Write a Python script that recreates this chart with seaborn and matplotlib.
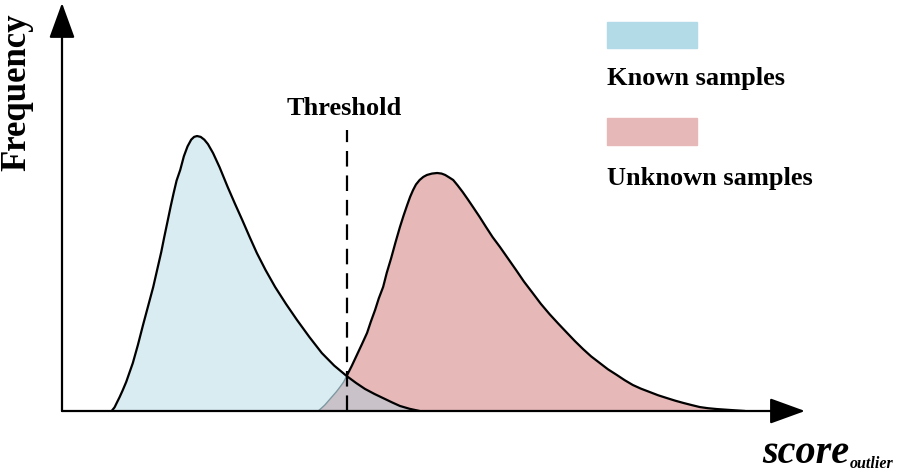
import numpy as np
import pandas as pd
import matplotlib.pyplot as plt
import seaborn as sns
from matplotlib.patches import Rectangle

# ================= DATA =================
known_x = [6.8, 7.2, 7.5, 7.9, 8.3, 8.8, 9.2, 9.7, 10.4, 11.1, 11.8, 12.5, 13.0, 13.6,
           14.0, 14.5, 14.9, 15.3, 15.7, 16.2, 16.7, 17.2, 17.7, 18.1, 18.5, 19.0,
           19.5, 20.0, 20.7, 21.6, 22.7, 23.7, 24.7, 25.7, 26.7, 27.9, 29.2, 30.7,
           32.2, 33.9, 35.6, 37.3, 39.0, 40.3, 41.5, 42.8, 44.0, 45.2, 46.3, 47.6, 49.0]
known_y = [0.0, 1.3, 2.9, 5.0, 7.3, 10.4, 13.4, 17.1, 23.6, 30.7, 37.5, 44.3, 50.0, 56.8,
           62.0, 68.2, 73.2, 77.9, 82.3, 86.1, 91.0, 94.5, 96.9, 97.9, 98.2, 97.9,
           96.9, 95.3, 92.1, 87.0, 80.0, 74.0, 68.2, 62.2, 56.4, 50.3, 44.3, 38.2,
           32.5, 26.4, 20.7, 16.2, 12.5, 10.0, 7.9, 6.1, 4.6, 3.1, 1.8, 0.8, 0.0]

unknown_x = [35.1, 35.5, 36.0, 36.5, 37.1, 37.6, 38.1, 38.6, 39.0, 39.7, 40.4, 41.1,
             41.8, 42.3, 42.9, 43.4, 44.0, 44.5, 45.1, 45.7, 46.3, 46.8, 47.3, 47.7,
             48.1, 48.5, 49.0, 49.5, 50.0, 50.7, 51.4, 52.0, 52.5, 53.0, 53.6, 54.2,
             54.9, 55.6, 56.3, 57.2, 58.1, 59.0, 60.0, 61.1, 62.2, 63.3, 64.5, 65.6,
             66.8, 68.0, 69.2, 70.3, 71.4, 72.5, 73.7, 74.8, 76.0, 77.1, 78.2, 79.3,
             80.5, 81.7, 82.9, 84.0, 85.1, 86.3, 87.4, 88.5, 89.7, 91.9, 93.6]
unknown_y = [0.0, 0.9, 2.1, 3.6, 5.4, 6.9, 8.6, 10.4, 12.5, 16.1, 20.0, 23.9,
             27.9, 31.8, 36.1, 40.2, 44.3, 49.4, 54.6, 60.3, 65.7, 69.8, 73.6, 76.5,
             78.9, 80.9, 82.5, 83.6, 84.3, 84.8, 85.0, 84.8, 84.3, 83.5, 82.5, 80.6,
             78.2, 75.6, 72.9, 69.4, 65.7, 62.1, 58.6, 54.5, 50.4, 46.2, 42.1, 38.3,
             34.6, 31.2, 27.9, 24.9, 22.1, 19.5, 17.1, 14.9, 12.9, 11.0, 9.3, 8.0,
             6.8, 5.6, 4.6, 3.7, 2.9, 2.1, 1.4, 1.0, 0.7, 0.3, 0.0]

threshold = 39.0
threshold_top = 100.4
labels = ["Known samples", "Unknown samples"]

known = pd.DataFrame({"score": known_x, "freq": known_y})
unknown = pd.DataFrame({"score": unknown_x, "freq": unknown_y})

# overlap = rising edge of unknown up to threshold, then falling edge of known
left = unknown[unknown.score <= threshold]
right = known[known.score > threshold]
overlap = pd.concat([left, right])

# ================= STYLE =================
sns.set_theme(style="white")
plt.rcParams["font.family"] = ["Liberation Serif", "DejaVu Serif"]
plt.rcParams["text.color"] = "black"

BLUE_FILL = "#d9ecf2"
RED_FILL = "#e6b8b7"
GRAY_FILL = "#c9c2c8"
BLUE_PATCH = "#b2dbe7"

fig = plt.figure(figsize=(9, 4.74), dpi=100)
ax = fig.add_axes([62 / 900, 63 / 474, 743 / 900, 406 / 474])
ax.set_xlim(0, 101.8)
ax.set_ylim(0, 145)

ax.fill_between(known.score, known.freq, color=BLUE_FILL, lw=0)
ax.fill_between(unknown.score, unknown.freq, color=RED_FILL, lw=0)
ax.fill_between(overlap.score, overlap.freq, color=GRAY_FILL, lw=0)

line_kw = dict(color="black", lw=1.6, sort=False, solid_joinstyle="round")
sns.lineplot(data=known, x="score", y="freq", ax=ax, **line_kw)
sns.lineplot(data=unknown[unknown.score >= threshold], x="score", y="freq", ax=ax,
             **line_kw)
sns.lineplot(data=left, x="score", y="freq", ax=ax, color="#7d97a0", lw=1.0, sort=False)

ax.vlines(threshold, 0, threshold_top, colors="black", lw=1.6,
          linestyles=(0, (7, 4)), zorder=5)
ax.text(threshold - 0.3, 108, "Threshold", ha="center", va="center",
        fontsize=19, fontweight="bold")

# ================= AXES AS ARROWS =================
for s in ax.spines.values():
    s.set_visible(False)
ax.set_xticks([])
ax.set_yticks([])
ax.set_xlabel("")
ax.set_ylabel("")

arrow = dict(arrowstyle="-|>,head_length=1.1,head_width=0.4", color="black",
             lw=1.6, mutation_scale=20, shrinkA=0, shrinkB=0)
ax.annotate("", xy=(1, 0), xytext=(0, 0), xycoords="axes fraction",
            arrowprops=arrow, annotation_clip=False)
ax.annotate("", xy=(0, 1.005), xytext=(0, 0), xycoords="axes fraction",
            arrowprops=arrow, annotation_clip=False)

fig.text(17 / 900, 1 - 92 / 474, "Frequency", rotation=90, ha="center", va="center",
         fontsize=25, fontweight="bold")
fig.text(762 / 900, 1 - 463 / 474, "score", ha="left", va="baseline",
         fontsize=29, fontweight="bold", style="italic")
fig.text(850 / 900, 1 - 468 / 474, "outlier", ha="left", va="baseline",
         fontsize=11.5, fontweight="bold", style="italic")

# ================= LEGEND =================
fig.patches.append(Rectangle((607 / 900, 1 - 48 / 474), 90 / 900, 26 / 474,
                             transform=fig.transFigure, color=BLUE_PATCH))
fig.patches.append(Rectangle((607 / 900, 1 - 145 / 474), 90 / 900, 27 / 474,
                             transform=fig.transFigure, color=RED_FILL))
fig.text(607 / 900, 1 - 79 / 474, labels[0], ha="left", va="center",
         fontsize=19, fontweight="bold")
fig.text(607 / 900, 1 - 178 / 474, labels[1], ha="left", va="center",
         fontsize=19, fontweight="bold")

fig.savefig("out.png", dpi=100)
plt.close(fig)
